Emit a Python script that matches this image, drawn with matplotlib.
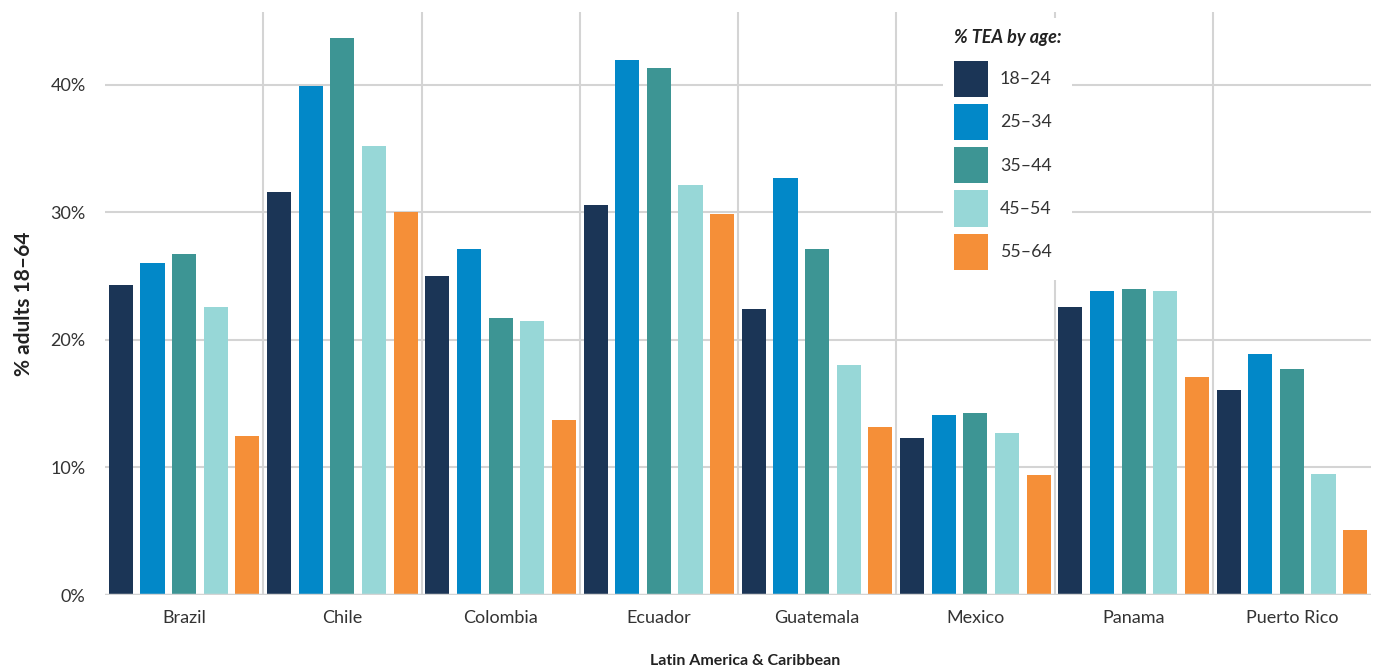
import matplotlib
matplotlib.use("Agg")
import matplotlib.pyplot as plt
from matplotlib.patches import Patch
import numpy as np

countries = ["Brazil", "Chile", "Colombia", "Ecuador", "Guatemala", "Mexico", "Panama", "Puerto Rico"]
age_groups = ["18–24", "25–34", "35–44", "45–54", "55–64"]
tea_18_24 = [24.3, 31.6, 25.0, 30.6, 22.4, 12.3, 22.6, 16.1]
tea_25_34 = [26.0, 39.9, 27.1, 41.9, 32.7, 14.1, 23.8, 18.9]
tea_35_44 = [26.7, 43.7, 21.7, 41.3, 27.1, 14.3, 24.0, 17.7]
tea_45_54 = [22.6, 35.2, 21.5, 32.1, 18.0, 12.7, 23.8, 9.5]
tea_55_64 = [12.5, 30.0, 13.7, 29.9, 13.2, 9.4, 17.1, 5.1]
series = [tea_18_24, tea_25_34, tea_35_44, tea_45_54, tea_55_64]
colors = ["#1b3556", "#0288c8", "#3d9594", "#97d7d7", "#f58f38"]
yticks = [0, 10, 20, 30, 40]

plt.rcParams['font.family'] = ['Lato', 'DejaVu Sans']

fig = plt.figure(figsize=(13.76, 6.72), dpi=100)
ax = fig.add_axes([105/1376, 77/672, 1266/1376, 583/672])

n = len(countries)
base = np.arange(n)
bw = 0.76 / 5
for j, (vals, c) in enumerate(zip(series, colors)):
    ax.bar(base + (j + 0.5) / 5, vals, width=bw, color=c, zorder=3, label=age_groups[j])

ax.set_xlim(0, n)
ax.set_ylim(0, 45.7)
ax.set_yticks(yticks)
ax.set_yticklabels([f"{v}%" for v in yticks])
ax.set_xticks(base + 0.5)
ax.set_xticklabels(countries)
ax.tick_params(axis='both', length=0, labelsize=13, labelcolor="#333333")
ax.tick_params(axis='x', pad=11)
ax.tick_params(axis='y', pad=14)

for y in yticks[1:]:
    ax.axhline(y, color="#d4d4d4", lw=1.5, zorder=1)
for x in range(1, n):
    ax.axvline(x, color="#d4d4d4", lw=1.5, zorder=1)
ax.axhline(0, color="#d4d4d4", lw=2.5, zorder=4)

for s in ax.spines.values():
    s.set_visible(False)

ax.set_ylabel("% adults 18–64", fontsize=15, fontweight='bold', color="#222222", labelpad=12)
fig.text(745/1376, 1 - 661/672, "Latin America & Caribbean", ha='center', va='center',
         fontsize=11.5, fontweight='bold', color="#222222")

handles = [Patch(facecolor=c, edgecolor='none') for c in colors]
leg = fig.legend(handles, age_groups, loc='upper left', bbox_to_anchor=(934/1376, 1 - 9/672),
                 frameon=True, framealpha=1, facecolor='white', edgecolor='none', fancybox=False,
                 fontsize=12.8, handlelength=1.95, handleheight=2.75, labelspacing=0.4,
                 handletextpad=0.65, borderpad=0.6, title="% TEA by age:",
                 title_fontproperties={'size': 13, 'weight': 'bold', 'style': 'italic'},
                 alignment='left', labelcolor="#333333")
leg.get_title().set_color("#222222")
leg._legend_box.sep = 0.4 * 12.8 + 8 * 0.72

fig.savefig("out.png", dpi=100, facecolor='white')
